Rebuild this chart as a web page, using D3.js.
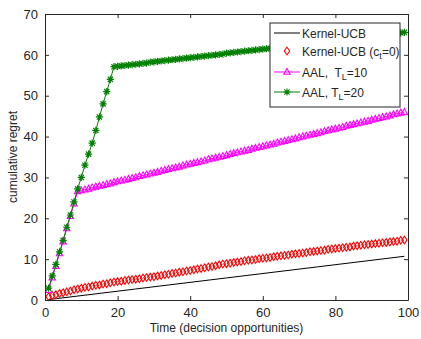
<!DOCTYPE html>
<html>
<head>
<meta charset="utf-8">
<script src="https://cdn.jsdelivr.net/npm/d3@7"></script>
<style>
  body { margin: 0; background: #fff; }
  text { font-family: "Liberation Sans", Arial, sans-serif; fill: #262626; white-space: pre; }
</style>
</head>
<body>
<div id="chart"></div>
<script>
// x ticks / y ticks
const xTicks = [0, 20, 40, 60, 80, 100];
const yTicks = [0, 10, 20, 30, 40, 50, 60, 70];

// Kernel-UCB (plain line, read at a few points)
const ucbT = [1, 25, 50, 75, 99];
const ucbVals = [0.1, 2.7, 5.4, 8.1, 10.7];

// Kernel-UCB (c_t=0), t = 1..99
const ucb0Vals = [0.8, 1.1, 1.3, 1.6, 1.8, 2.0, 2.2, 2.5, 2.7, 2.9,
  3.1, 3.2, 3.4, 3.6, 3.7, 3.9, 4.0, 4.2, 4.4, 4.5,
  4.6, 4.8, 4.9, 5.0, 5.1, 5.2, 5.4, 5.5, 5.6, 5.7,
  5.9, 6.0, 6.2, 6.3, 6.5, 6.6, 6.8, 6.9, 7.1, 7.2,
  7.4, 7.6, 7.7, 7.9, 8.1, 8.2, 8.4, 8.6, 8.8, 8.9,
  9.0, 9.2, 9.3, 9.4, 9.6, 9.7, 9.8, 9.9, 10.1, 10.2,
  10.3, 10.4, 10.6, 10.7, 10.8, 10.9, 11.0, 11.2, 11.3, 11.4,
  11.5, 11.6, 11.8, 11.9, 12.0, 12.1, 12.2, 12.4, 12.5, 12.6,
  12.7, 12.8, 12.9, 13.0, 13.2, 13.3, 13.4, 13.5, 13.6, 13.7,
  13.8, 13.9, 14.0, 14.1, 14.2, 14.3, 14.4, 14.6, 14.7];

// AAL, T_L=10, t = 1..99
const aal10Vals = [2.4, 5.5, 8.3, 11.4, 14.3, 17.5, 20.5, 23.6, 26.6, 26.8,
  27.0, 27.2, 27.5, 27.7, 27.9, 28.1, 28.3, 28.5, 28.8, 29.0,
  29.2, 29.4, 29.6, 29.8, 30.0, 30.3, 30.5, 30.7, 30.9, 31.1,
  31.3, 31.6, 31.8, 32.0, 32.2, 32.4, 32.6, 32.9, 33.1, 33.3,
  33.5, 33.7, 33.9, 34.1, 34.4, 34.6, 34.8, 35.0, 35.2, 35.4,
  35.7, 35.9, 36.1, 36.3, 36.5, 36.7, 37.0, 37.2, 37.4, 37.6,
  37.8, 38.0, 38.2, 38.5, 38.7, 38.9, 39.1, 39.3, 39.5, 39.8,
  40.0, 40.2, 40.4, 40.6, 40.8, 41.0, 41.3, 41.5, 41.7, 41.9,
  42.1, 42.3, 42.6, 42.8, 43.0, 43.2, 43.4, 43.6, 43.8, 44.1,
  44.3, 44.5, 44.7, 44.9, 45.1, 45.4, 45.6, 45.8, 46.0];

// AAL, T_L=20, t = 1..99
const aal20Vals = [2.9, 5.9, 8.7, 11.8, 14.6, 17.8, 20.8, 24.0, 27.2, 30.0,
  33.0, 35.7, 38.4, 41.5, 44.8, 48.0, 51.0, 54.0, 57.1, 57.2,
  57.3, 57.4, 57.5, 57.6, 57.7, 57.8, 57.9, 58.0, 58.2, 58.3,
  58.4, 58.5, 58.6, 58.7, 58.8, 58.9, 59.0, 59.1, 59.2, 59.3,
  59.4, 59.5, 59.6, 59.7, 59.8, 59.9, 60.0, 60.1, 60.2, 60.4,
  60.5, 60.6, 60.7, 60.8, 60.9, 61.0, 61.1, 61.2, 61.3, 61.4,
  61.5, 61.6, 61.7, 61.8, 61.9, 62.0, 62.1, 62.2, 62.3, 62.5,
  62.6, 62.7, 62.8, 62.9, 63.0, 63.1, 63.2, 63.3, 63.4, 63.5,
  63.6, 63.7, 63.8, 63.9, 64.0, 64.1, 64.2, 64.3, 64.4, 64.6,
  64.7, 64.8, 64.9, 65.0, 65.1, 65.2, 65.3, 65.4, 65.5];

const W = 421, H = 339;
const margin = { top: 14, right: 13, bottom: 39, left: 45 };
const axisColor = '#262626';

const svg = d3.select('#chart').append('svg')
  .attr('width', W)
  .attr('height', H);

const contentWidth = W - margin.left - margin.right;
const contentHeight = H - margin.top - margin.bottom;

const x = d3.scaleLinear().domain([0, 100]).range([0, contentWidth]);
const y = d3.scaleLinear().domain([0, 70]).range([contentHeight, 0]);

const g = svg.append('g')
  .attr('transform', 'translate(' + margin.left + ',' + margin.top + ')');

const toPts = vals => vals.map((v, i) => [i + 1, v]);
const line = d3.line().x(d => x(d[0])).y(d => y(d[1]));

const diaPath = 'M0,-3.8L2.7,0L0,3.8L-2.7,0Z';
const triPath = 'M0,-3.6L3.2,2.3L-3.2,2.3Z';
const starPath = 'M0,-3.6V3.6M-3.6,0H3.6M-2.6,-2.6L2.6,2.6M-2.6,2.6L2.6,-2.6';

// black line
g.append('path')
  .datum(ucbT.map((t, i) => [t, ucbVals[i]]))
  .attr('fill', 'none').attr('stroke', '#000').attr('stroke-width', 1)
  .attr('d', line);

// red diamonds
g.selectAll('.dia')
  .data(toPts(ucb0Vals))
  .enter().append('path')
  .attr('class', 'dia')
  .attr('d', diaPath)
  .attr('transform', d => 'translate(' + x(d[0]) + ',' + y(d[1]) + ')')
  .attr('fill', 'none').attr('stroke', '#ff0000').attr('stroke-width', 1.1);

// magenta line + triangles
g.append('path')
  .datum(toPts(aal10Vals))
  .attr('fill', 'none').attr('stroke', '#ff00ff').attr('stroke-width', 1)
  .attr('d', line);
g.selectAll('.tri')
  .data(toPts(aal10Vals))
  .enter().append('path')
  .attr('class', 'tri')
  .attr('d', triPath)
  .attr('transform', d => 'translate(' + x(d[0]) + ',' + y(d[1]) + ')')
  .attr('fill', 'none').attr('stroke', '#ff00ff').attr('stroke-width', 1.1);

// green line + stars
g.append('path')
  .datum(toPts(aal20Vals))
  .attr('fill', 'none').attr('stroke', '#008000').attr('stroke-width', 1)
  .attr('d', line);
g.selectAll('.star')
  .data(toPts(aal20Vals))
  .enter().append('path')
  .attr('class', 'star')
  .attr('d', starPath)
  .attr('transform', d => 'translate(' + x(d[0]) + ',' + y(d[1]) + ')')
  .attr('fill', 'none').attr('stroke', '#008000').attr('stroke-width', 1.2);

// axes (MATLAB-style box, inward ticks)
const tickLen = 4;
const axB = g.append('g').attr('transform', 'translate(0,' + contentHeight + ')')
  .call(d3.axisBottom(x).tickValues(xTicks).tickSizeInner(-tickLen).tickSizeOuter(0).tickPadding(8));
const axT = g.append('g')
  .call(d3.axisTop(x).tickValues(xTicks).tickSizeInner(-tickLen).tickSizeOuter(0).tickFormat(''));
const axL = g.append('g')
  .call(d3.axisLeft(y).tickValues(yTicks).tickSizeInner(-tickLen).tickSizeOuter(0).tickPadding(7));
const axR = g.append('g').attr('transform', 'translate(' + contentWidth + ',0)')
  .call(d3.axisRight(y).tickValues(yTicks).tickSizeInner(-tickLen).tickSizeOuter(0).tickFormat(''));

[axB, axT, axL, axR].forEach(a => {
  a.selectAll('path, line').attr('stroke', axisColor).attr('stroke-width', 1);
  a.selectAll('text').style('font-size', '13px').attr('fill', axisColor)
    .style('font-family', '"Liberation Sans", Arial, sans-serif');
});

// axis labels
svg.append('text')
  .attr('x', margin.left + contentWidth / 2)
  .attr('y', 332)
  .attr('text-anchor', 'middle')
  .style('font-size', '12px')
  .text('Time (decision opportunities)');

svg.append('text')
  .attr('transform', 'translate(17,' + (margin.top + contentHeight / 2) + ') rotate(-90)')
  .attr('text-anchor', 'middle')
  .style('font-size', '12px')
  .text('cumulative regret');

// legend
const lg = svg.append('g').attr('transform', 'translate(270,23)');
lg.append('rect')
  .attr('width', 130).attr('height', 84)
  .attr('fill', '#fff').attr('stroke', axisColor).attr('stroke-width', 1);

const legendItems = [
  { color: '#000', marker: null, label: ['Kernel-UCB'] },
  { color: '#ff0000', marker: diaPath, noLine: true, label: ['Kernel-UCB (c', 't', '=0)'] },
  { color: '#ff00ff', marker: triPath, label: ['AAL,  T', 'L', '=10'] },
  { color: '#008000', marker: starPath, label: ['AAL, T', 'L', '=20'] }
];
const rowY = [10, 28, 49, 69];

legendItems.forEach((it, i) => {
  const row = lg.append('g').attr('transform', 'translate(0,' + rowY[i] + ')');
  if (!it.noLine) {
    row.append('line').attr('x1', 4).attr('x2', 30).attr('y1', 0).attr('y2', 0)
      .attr('stroke', it.color).attr('stroke-width', 1);
  }
  if (it.marker) {
    row.append('path').attr('d', it.marker).attr('transform', 'translate(17,0)')
      .attr('fill', 'none').attr('stroke', it.color).attr('stroke-width', 1.1);
  }
  const t = row.append('text').attr('x', 32).attr('y', 4.5).style('font-size', '12px');
  t.append('tspan').text(it.label[0]);
  if (it.label.length > 1) {
    t.append('tspan').attr('dy', 3).style('font-size', '9px').text(it.label[1]);
    t.append('tspan').attr('dy', -3).text(it.label[2]);
  }
});
</script>
</body>
</html>
